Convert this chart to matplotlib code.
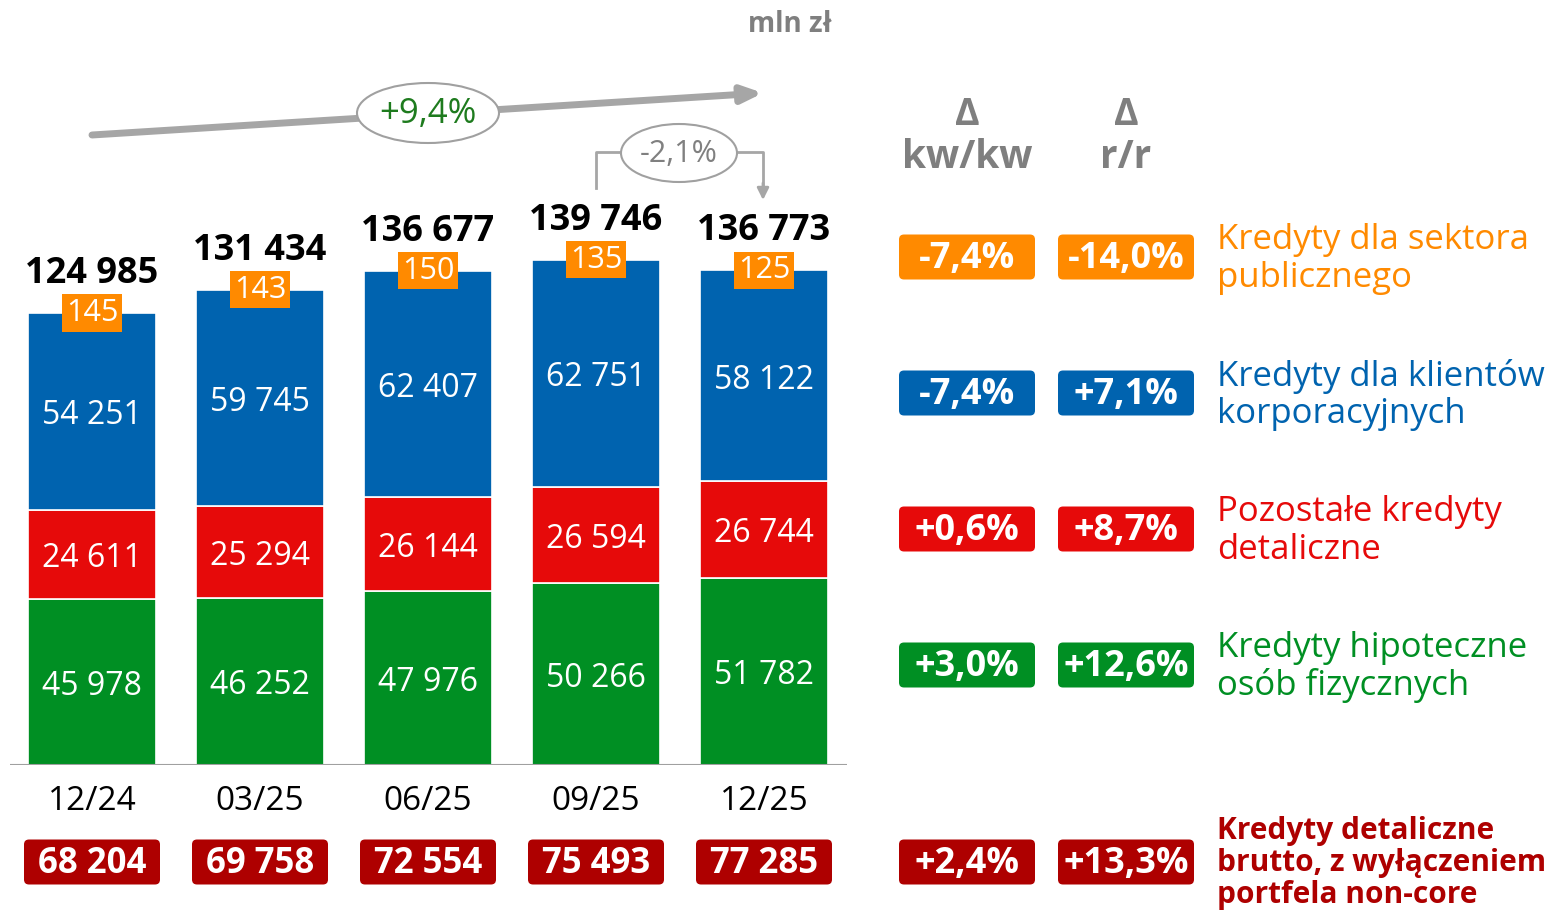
import numpy as np
import matplotlib.pyplot as plt
from matplotlib.patches import FancyBboxPatch, Ellipse

plt.rcParams['font.family'] = ['Open Sans', 'DejaVu Sans']

# -------------------------
# Data (mln zł)
# -------------------------
periods = ['12/24', '03/25', '06/25', '09/25', '12/25']
mortgage = [45978, 46252, 47976, 50266, 51782]
other_retail = [24611, 25294, 26144, 26594, 26744]
corporate = [54251, 59745, 62407, 62751, 58122]
public = [145, 143, 150, 135, 125]
retail_gross = ['68 204', '69 758', '72 554', '75 493', '77 285']

growth_total = '+9,4%'
growth_qoq = '-2,1%'

row_labels = ['Kredyty dla sektora\npublicznego',
              'Kredyty dla klientów\nkorporacyjnych',
              'Pozostałe kredyty\ndetaliczne',
              'Kredyty hipoteczne\nosób fizycznych',
              'Kredyty detaliczne\nbrutto, z wyłączeniem\nportfela non-core']
kw_kw = ['-7,4%', '-7,4%', '+0,6%', '+3,0%', '+2,4%']
r_r = ['-14,0%', '+7,1%', '+8,7%', '+12,6%', '+13,3%']

orange = '#FF8A00'
blue = '#0063AF'
red = '#E60A0A'
green = '#008F23'
darkred = '#AE0000'
grey = '#A6A6A6'
row_colors = [orange, blue, red, green, darkred]


def fmt(v):
    return f'{v:,}'.replace(',', ' ')


W, H = 1555, 910
fig = plt.figure(figsize=(W / 100, H / 100), dpi=100)

# bar axes: baseline at y=765 px, 0.003617 px per mln
scale = 0.003617
x = np.arange(len(periods))
ax = fig.add_axes([10 / W, 145 / H, 837 / W, 765 / H])
ax.set_xlim(-82 / 168, 755 / 168)
ax.set_ylim(0, 765 / scale)
ax.axis('off')

mortgage = np.array(mortgage)
other_retail = np.array(other_retail)
corporate = np.array(corporate)
public = np.array(public)
totals = mortgage + other_retail + corporate + public

w = 128 / 168
kw = dict(width=w, edgecolor='white', linewidth=1.2)
ax.bar(x, mortgage, color=green, **kw)
ax.bar(x, other_retail, bottom=mortgage, color=red, **kw)
ax.bar(x, corporate + public, bottom=mortgage + other_retail, color=blue, **kw)
ax.axhline(0, color='#A0A0A0', lw=1.5, xmin=0, xmax=1)


def seg_label(i, y, txt):
    ax.annotate(txt, (i, y), xytext=(0, -3), textcoords='offset points',
                ha='center', va='center', color='white', fontsize=23)


for i in x:
    seg_label(i, mortgage[i] / 2, fmt(mortgage[i]))
    seg_label(i, mortgage[i] + other_retail[i] / 2, fmt(other_retail[i]))
    seg_label(i, mortgage[i] + other_retail[i] + corporate[i] / 2,
              fmt(corporate[i]))
    ax.text(i, totals[i], str(public[i]), ha='center', va='center',
            color='white', fontsize=22,
            bbox=dict(boxstyle='square,pad=0.12', fc=orange, ec='none'))
    ax.annotate(fmt(totals[i]), (i, totals[i]), xytext=(0, 28),
                textcoords='offset points', ha='center', va='center',
                fontsize=26, fontweight='bold', color='black')
    ax.text(i, -36 / scale, periods[i], ha='center', va='center',
            fontsize=24, color='black')

# overlay axes in pixel coordinates
ov = fig.add_axes([0, 0, 1, 1], zorder=5)
ov.set_xlim(0, W)
ov.set_ylim(H, 0)
ov.axis('off')
ov.patch.set_alpha(0)

cx = [ax.transData.transform((i, 0))[0] for i in x]


def badge(xc, yc, txt, color, fs, width=136, height=45):
    ov.add_patch(FancyBboxPatch((xc - width / 2, yc - height / 2), width, height,
                                boxstyle='round,pad=0,rounding_size=5',
                                fc=color, ec='none'))
    ov.text(xc, yc + 2, txt, ha='center', va='center', color='white',
            fontsize=fs, fontweight='bold')


for i in x:
    badge(cx[i], 862, retail_gross[i], darkred, 25)

# growth arrow across the whole period
ov.annotate('', xy=(763, 93), xytext=(92, 135),
            arrowprops=dict(arrowstyle='-|>,head_length=1.2,head_width=0.5',
                            color=grey, lw=5, shrinkA=0, shrinkB=0),
            zorder=1)
ov.add_patch(Ellipse((428, 113), 142, 60, fc='white', ec='#A0A0A0', lw=1.5,
                     zorder=3))
ov.text(428, 114, growth_total, ha='center', va='center', fontsize=25,
        color='#1E7B1E', zorder=4)

# quarter-on-quarter bracket
ov.plot([596, 596, 763, 763], [188, 152, 152, 185], color=grey, lw=2,
        zorder=1)
ov.annotate('', xy=(763, 200), xytext=(763, 183),
            arrowprops=dict(arrowstyle='-|>,head_length=0.7,head_width=0.35',
                            color=grey, lw=2, shrinkA=0, shrinkB=0),
            zorder=1)
ov.add_patch(Ellipse((679, 153), 116, 58, fc='white', ec='#A0A0A0', lw=1.5,
                     zorder=3))
ov.text(679, 154, growth_qoq, ha='center', va='center', fontsize=22,
        color='#808080', zorder=4)

ov.text(790, 25, 'mln zł', ha='center', va='center', fontsize=20,
        fontweight='bold', color='#7F7F7F')

# right panel
for xc, head in [(967, 'kw/kw'), (1126, 'r/r')]:
    ov.text(xc, 115, 'Δ', ha='center', va='center', fontsize=27,
            fontweight='bold', color='#7F7F7F')
    ov.text(xc, 157, head, ha='center', va='center', fontsize=28,
            fontweight='bold', color='#7F7F7F')

row_y = [257, 393, 529, 665, 862]
for k in range(len(row_labels)):
    badge(967, row_y[k], kw_kw[k], row_colors[k], 26)
    badge(1126, row_y[k], r_r[k], row_colors[k], 26)
    if k < 4:
        ov.text(1217, row_y[k] + 2, row_labels[k], ha='left', va='center',
                fontsize=25, color=row_colors[k], linespacing=1.13)
    else:
        ov.text(1217, row_y[k] + 1, row_labels[k], ha='left', va='center',
                fontsize=21.5, fontweight='bold', color=row_colors[k],
                linespacing=1.07)

fig.savefig('out.png', dpi=100)
